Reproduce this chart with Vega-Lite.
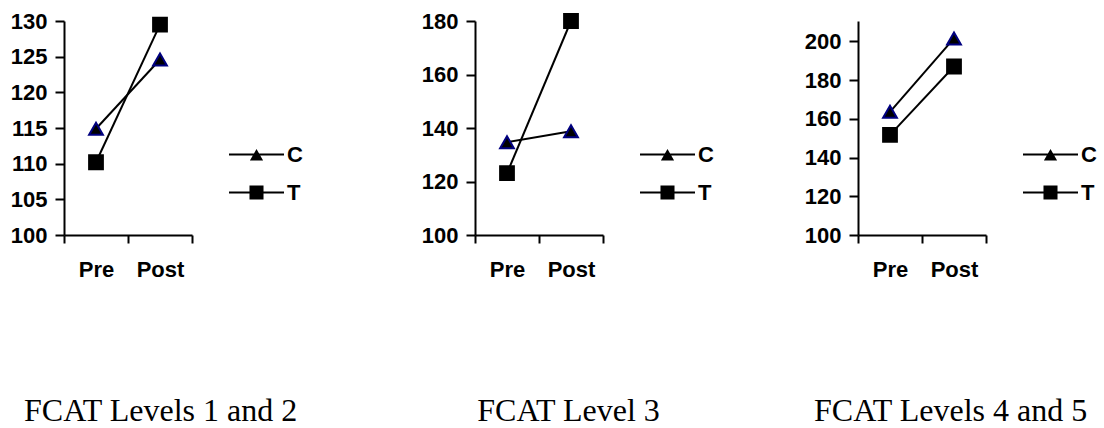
{
  "$schema": "https://vega.github.io/schema/vega-lite/v6.json",
  "padding": {"top": 10, "left": 10, "right": 0, "bottom": 0},
  "background": "white",
  "spacing": 90,
  "data": {"values": [
    {"panel": 1, "group": "C", "phase": "Pre", "value": 114.9},
    {"panel": 1, "group": "C", "phase": "Post", "value": 124.6},
    {"panel": 1, "group": "T", "phase": "Pre", "value": 110.2},
    {"panel": 1, "group": "T", "phase": "Post", "value": 129.5},
    {"panel": 2, "group": "C", "phase": "Pre", "value": 134.7},
    {"panel": 2, "group": "C", "phase": "Post", "value": 138.8},
    {"panel": 2, "group": "T", "phase": "Pre", "value": 123.1},
    {"panel": 2, "group": "T", "phase": "Post", "value": 180},
    {"panel": 3, "group": "C", "phase": "Pre", "value": 163.6},
    {"panel": 3, "group": "C", "phase": "Post", "value": 201.5},
    {"panel": 3, "group": "T", "phase": "Pre", "value": 151.7},
    {"panel": 3, "group": "T", "phase": "Post", "value": 187}
  ]},
  "config": {
    "view": {"stroke": null},
    "axis": {
      "grid": false,
      "domainColor": "black",
      "domainWidth": 2,
      "tickColor": "black",
      "tickWidth": 2,
      "labelColor": "black",
      "labelFont": "Liberation Sans",
      "labelFontWeight": "bold",
      "labelFontSize": 22,
      "labelOverlap": false,
      "title": null
    },
    "title": {
      "orient": "bottom",
      "font": "Liberation Serif",
      "fontSize": 32,
      "fontWeight": "normal",
      "color": "black",
      "anchor": "middle",
      "frame": "bounds",
      "offset": 116
    },
    "legend": {
      "orient": "none",
      "legendX": 165,
      "legendY": 115,
      "title": null,
      "padding": 0,
      "symbolSize": 3025,
      "symbolStrokeWidth": 0,
      "symbolOpacity": 1,
      "symbolFillColor": "black",
      "labelFont": "Liberation Sans",
      "labelFontWeight": "bold",
      "labelFontSize": 22,
      "labelColor": "black",
      "labelOffset": 3,
      "clipHeight": 37,
      "rowPadding": 1
    }
  },
  "hconcat": [
    {
      "width": 128, "height": 214,
      "title": {"text": "FCAT Levels 1 and 2", "dx": 4},
      "transform": [{"filter": "datum.panel === 1"}],
      "encoding": {
        "x": {"field": "phase", "type": "nominal", "sort": ["Pre", "Post"], "scale": {"paddingInner": 0, "paddingOuter": 0}, "axis": {"labelAngle": 0, "tickBand": "extent", "tickSize": 8, "labelPadding": 16}},
        "y": {"field": "value", "type": "quantitative", "scale": {"domain": [100, 130], "nice": false, "zero": false}, "axis": {"values": [100, 105, 110, 115, 120, 125, 130], "tickCount": 12, "tickSize": 9, "labelPadding": 8}}
      },
      "layer": [
        {
          "mark": {"type": "line", "color": "black", "strokeWidth": 2},
          "encoding": {"detail": {"field": "group"}}
        },
        {
          "mark": {"type": "point", "filled": true, "size": 190, "fill": "black", "strokeWidth": 2, "opacity": 1},
          "encoding": {
            "shape": {"field": "group", "type": "nominal", "scale": {"domain": ["C", "T"], "range": ["triangle-up", "square"]}, "legend": null},
            "stroke": {"field": "group", "type": "nominal", "scale": {"domain": ["C", "T"], "range": ["#000080", "#000000"]}, "legend": null}
          }
        },
        {
          "mark": {"type": "point", "filled": true, "fill": "black", "opacity": 0},
          "encoding": {
            "shape": {"field": "group", "type": "nominal", "scale": {"domain": ["C", "T"], "range": ["M-1,-0.036H1V0.036H-1Z M0,-0.2L0.24,0.22L-0.24,0.22Z", "M-1,-0.036H1V0.036H-1Z M-0.255,-0.255H0.255V0.255H-0.255Z"]}}
          }
        }
      ],
      "resolve": {"scale": {"shape": "independent"}}
    },
    {
      "width": 128, "height": 214,
      "title": {"text": "FCAT Level 3", "dx": 15},
      "transform": [{"filter": "datum.panel === 2"}],
      "encoding": {
        "x": {"field": "phase", "type": "nominal", "sort": ["Pre", "Post"], "scale": {"paddingInner": 0, "paddingOuter": 0}, "axis": {"labelAngle": 0, "tickBand": "extent", "tickSize": 8, "labelPadding": 16}},
        "y": {"field": "value", "type": "quantitative", "scale": {"domain": [100, 180], "nice": false, "zero": false}, "axis": {"values": [100, 120, 140, 160, 180], "tickCount": 12, "tickSize": 9, "labelPadding": 8, "minExtent": 82}}
      },
      "layer": [
        {
          "mark": {"type": "line", "color": "black", "strokeWidth": 2},
          "encoding": {"detail": {"field": "group"}}
        },
        {
          "mark": {"type": "point", "filled": true, "size": 190, "fill": "black", "strokeWidth": 2, "opacity": 1},
          "encoding": {
            "shape": {"field": "group", "type": "nominal", "scale": {"domain": ["C", "T"], "range": ["triangle-up", "square"]}, "legend": null},
            "stroke": {"field": "group", "type": "nominal", "scale": {"domain": ["C", "T"], "range": ["#000080", "#000000"]}, "legend": null}
          }
        },
        {
          "mark": {"type": "point", "filled": true, "fill": "black", "opacity": 0},
          "encoding": {
            "shape": {"field": "group", "type": "nominal", "scale": {"domain": ["C", "T"], "range": ["M-1,-0.036H1V0.036H-1Z M0,-0.2L0.24,0.22L-0.24,0.22Z", "M-1,-0.036H1V0.036H-1Z M-0.255,-0.255H0.255V0.255H-0.255Z"]}}
          }
        }
      ],
      "resolve": {"scale": {"shape": "independent"}}
    },
    {
      "width": 128, "height": 214,
      "title": {"text": "FCAT Levels 4 and 5", "dx": 0},
      "transform": [{"filter": "datum.panel === 3"}],
      "encoding": {
        "x": {"field": "phase", "type": "nominal", "sort": ["Pre", "Post"], "scale": {"paddingInner": 0, "paddingOuter": 0}, "axis": {"labelAngle": 0, "tickBand": "extent", "tickSize": 8, "labelPadding": 16}},
        "y": {"field": "value", "type": "quantitative", "scale": {"domain": [100, 210.5], "nice": false, "zero": false}, "axis": {"values": [100, 120, 140, 160, 180, 200], "tickCount": 12, "tickSize": 9, "labelPadding": 8}}
      },
      "layer": [
        {
          "mark": {"type": "line", "color": "black", "strokeWidth": 2},
          "encoding": {"detail": {"field": "group"}}
        },
        {
          "mark": {"type": "point", "filled": true, "size": 190, "fill": "black", "strokeWidth": 2, "opacity": 1},
          "encoding": {
            "shape": {"field": "group", "type": "nominal", "scale": {"domain": ["C", "T"], "range": ["triangle-up", "square"]}, "legend": null},
            "stroke": {"field": "group", "type": "nominal", "scale": {"domain": ["C", "T"], "range": ["#000080", "#000000"]}, "legend": null}
          }
        },
        {
          "mark": {"type": "point", "filled": true, "fill": "black", "opacity": 0},
          "encoding": {
            "shape": {"field": "group", "type": "nominal", "scale": {"domain": ["C", "T"], "range": ["M-1,-0.036H1V0.036H-1Z M0,-0.2L0.24,0.22L-0.24,0.22Z", "M-1,-0.036H1V0.036H-1Z M-0.255,-0.255H0.255V0.255H-0.255Z"]}}
          }
        }
      ],
      "resolve": {"scale": {"shape": "independent"}}
    }
  ],
  "resolve": {"scale": {"shape": "independent", "stroke": "independent"}, "legend": {"shape": "independent"}}
}
